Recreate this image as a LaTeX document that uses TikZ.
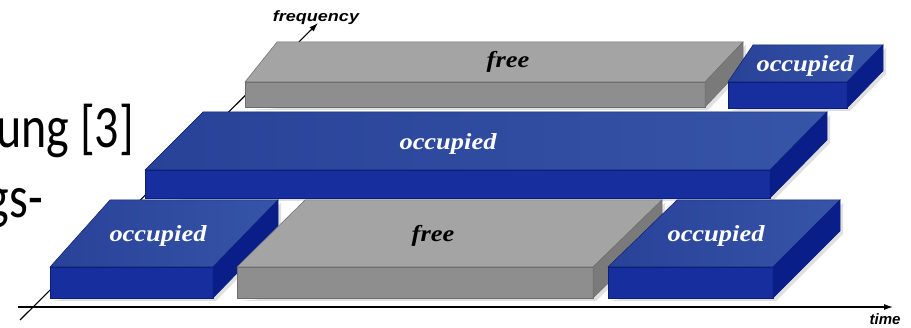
\documentclass[tikz,border=0pt]{standalone}
\usepackage{fontspec}
\usepackage{graphicx}
\setmainfont{Liberation Serif}
\newfontfamily\slidefont{Carlito}
\newfontfamily\axisfont{Liberation Sans}
\usetikzlibrary{arrows.meta}

\definecolor{bluetopL}{RGB}{40,66,152}
\definecolor{bluetopR}{RGB}{54,84,168}
\definecolor{bluefront}{RGB}{22,46,158}
\definecolor{blueside}{RGB}{10,30,138}
\definecolor{blueedge}{RGB}{12,30,120}
\definecolor{graytop}{RGB}{164,164,164}
\definecolor{grayfront}{RGB}{142,142,142}
\definecolor{grayside}{RGB}{122,122,122}
\definecolor{grayedge}{RGB}{110,110,110}

\tikzset{
	blue top/.style = {draw = blueedge, line width = 0.5pt, left color = bluetopL, right color = bluetopR},
	blue front/.style = {draw = blueedge, line width = 0.5pt, fill = bluefront},
	blue side/.style = {draw = blueedge, line width = 0.5pt, fill = blueside},
	gray top/.style = {draw = grayedge, line width = 0.5pt, fill = graytop},
	gray front/.style = {draw = grayedge, line width = 0.5pt, fill = grayfront},
	gray side/.style = {draw = grayedge, line width = 0.5pt, fill = grayside},
	slab shadow/.style = {fill = black, opacity = 0.12},
	block label/.style = {anchor = base, inner sep = 0pt, font = \fontsize{23}{23}\selectfont\bfseries\itshape},
	axis label/.style = {anchor = base, inner sep = 0pt, font = \axisfont\fontsize{15}{15}\selectfont\bfseries\itshape},
	slide text/.style = {anchor = base east, inner sep = 0pt, font = \slidefont\fontsize{60}{60}\selectfont},
	axis/.style = {line width = 1.1pt, -{Latex[length = 9pt, width = 6pt]}}
}

% #1 colour, #2 #3 front left/right x, #4 #5 back left/right x, #6 back y, #7 front top y, #8 front bottom y
\newcommand{\slab}[8]{%
	\fill [slab shadow] (#2 + 3, #8 + 3) -- (#3 + 3, #8 + 3) -- (#5 + 3, {#6 + #8 - #7 + 3}) -- (#5 + 3, #6 + 3) -- (#3, #7) -- cycle;
	\draw [#1 top] (#2, #7) -- (#4, #6) -- (#5, #6) -- (#3, #7) -- cycle;
	\draw [#1 front] (#2, #7) rectangle (#3, #8);
	\draw [#1 side] (#3, #7) -- (#5, #6) -- (#5, {#6 + #8 - #7}) -- (#3, #8) -- cycle;
}
\newcommand{\widen}[1]{\scalebox{1.15}[1]{#1}}
\newcommand{\squeeze}[1]{\scalebox{0.8}[1]{#1}}

\begin{document}
\begin{tikzpicture}[x = 1pt, y = -1pt]
	\useasboundingbox (0, 0) rectangle (911, 328);
	\clip (0, 0) rectangle (911, 328);

	\coordinate (t0) at (18, 307);
	\coordinate (t1) at (893, 307);
	\coordinate (f0) at (20, 320);
	\coordinate (f1) at (318, 23);

	% axes, behind the blocks
	\draw [axis] (t0) -- (t1);
	\draw [axis] (f0) -- (f1);

	% back row
	\slab{gray}{245}{705}{277}{743}{42}{82}{107}
	\slab{blue}{728}{847}{753}{883}{45}{82}{108}

	% middle row
	\slab{blue}{145}{770}{203}{827}{112}{170}{198}

	% front row
	\slab{blue}{50}{213}{110}{278}{200}{267}{298}
	\slab{gray}{237}{593}{305}{662}{200}{267}{298}
	\slab{blue}{608}{773}{677}{840}{200}{267}{298}

	\node [block label] (free1) at (508, 68) {\widen{free}};
	\node [block label, text = white] (occ1) at (805, 72) {\widen{occupied}};
	\node [block label, text = white] (occ2) at (448, 150) {\widen{occupied}};
	\node [block label, text = white] (occ3) at (158, 242) {\widen{occupied}};
	\node [block label] (free2) at (433, 242) {\widen{free}};
	\node [block label, text = white] (occ4) at (716, 242) {\widen{occupied}};

	\node [axis label] (freq) at (316, 22) {\scalebox{1.2}[1]{frequency}};
	\node [axis label] (time) at (885, 325) {time};

	\node [slide text] (line1) at (134, 148) {\squeeze{ung [3]}};
	\node [slide text] (line2) at (43, 218) {\squeeze{gs-}};
\end{tikzpicture}
\end{document}
